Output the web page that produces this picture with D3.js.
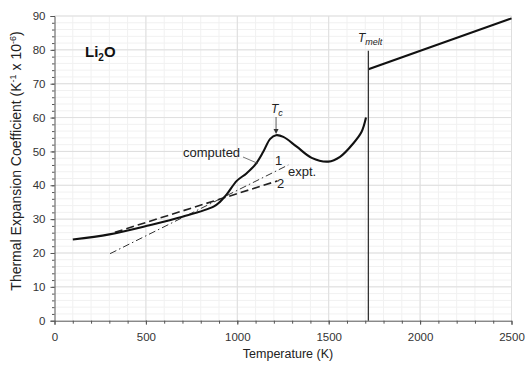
<!DOCTYPE html>
<html><head><meta charset="utf-8">
<script src="https://cdn.jsdelivr.net/npm/d3@7"></script>
<style>body{margin:0;background:#fff}svg{display:block;font-family:"Liberation Sans",Arial,sans-serif}</style>
</head><body><svg id="c" width="531" height="365"></svg>
<script>
// Data
const computedT = [100,300,520,700,870,905,942,997,1050,1097,1142,1180,1212,1252,1325,1407,1498,1562,1635,1680,1704];
const computedV = [24.0,25.5,28.2,30.7,33.7,35.1,37.3,41.3,43.5,46.0,49.9,53.7,54.8,54.3,51.4,48.1,47.0,48.4,52.4,55.8,60.0];
const liquidT = [1717,2500];
const liquidV = [74.3,89.3];
const expt1T = [304,1279];
const expt1V = [19.8,46.0];
const expt2T = [330,1220];
const expt2V = [26.1,41.3];
const meltT = 1717, meltTop = 79.7;
const xTicks = [0,500,1000,1500,2000,2500];
const yTicks = [0,10,20,30,40,50,60,70,80,90];

const svg = d3.select("#c");
const W=531,H=365, m={l:54.5,r:19.5,t:16,b:44.3};
const x = d3.scaleLinear().domain([0,2500]).range([m.l,W-m.r]);
const y = d3.scaleLinear().domain([0,90]).range([H-m.b,m.t]);

// minor grid
const g = svg.append("g");
g.selectAll(".mx").data(d3.range(100,2501,100)).join("line")
 .attr("x1",d=>x(d)).attr("x2",d=>x(d)).attr("y1",y(0)).attr("y2",y(90))
 .attr("stroke","#f1f1f1").attr("stroke-width",1);
g.selectAll(".my").data(d3.range(2,91,2)).join("line")
 .attr("x1",x(0)).attr("x2",x(2500)).attr("y1",d=>y(d)).attr("y2",d=>y(d))
 .attr("stroke","#f1f1f1").attr("stroke-width",1);
// major grid
g.selectAll(".Mx").data(xTicks.slice(1)).join("line")
 .attr("x1",d=>x(d)).attr("x2",d=>x(d)).attr("y1",y(0)).attr("y2",y(90))
 .attr("stroke","#dedede").attr("stroke-width",1);
g.selectAll(".My").data(yTicks.slice(1)).join("line")
 .attr("x1",x(0)).attr("x2",x(2500)).attr("y1",d=>y(d)).attr("y2",d=>y(d))
 .attr("stroke","#dedede").attr("stroke-width",1);

// axes
const xa = svg.append("g").attr("transform",`translate(0,${y(0)})`)
 .call(d3.axisBottom(x).tickValues(xTicks).tickSize(4).tickPadding(8).tickFormat(d3.format("d")));
const xm = svg.append("g").attr("transform",`translate(0,${y(0)})`)
 .call(d3.axisBottom(x).tickValues(d3.range(100,2500,100)).tickSize(3).tickFormat(""));
const ya = svg.append("g").attr("transform",`translate(${x(0)},0)`)
 .call(d3.axisLeft(y).tickValues(yTicks).tickSize(4).tickPadding(5));
const ym = svg.append("g").attr("transform",`translate(${x(0)},0)`)
 .call(d3.axisLeft(y).tickValues(d3.range(2,90,2)).tickSize(2.5).tickFormat(""));
[xa,xm,ya,ym].forEach(a=>{a.select(".domain").attr("stroke","#555");a.selectAll("line").attr("stroke","#555");
 a.selectAll("text").attr("fill","#333").style("font-size","11.5px").style("font-family","'Liberation Sans',Arial,sans-serif");});
xm.select(".domain").remove(); ym.select(".domain").remove();

// axis labels
svg.append("text").attr("x",288).attr("y",358).attr("text-anchor","middle")
 .attr("fill","#222").style("font-size","12.5px").text("Temperature (K)");
const yl = svg.append("text").attr("transform",`translate(21,161) rotate(-90)`)
 .attr("text-anchor","middle").attr("fill","#222").style("font-size","14px");
yl.append("tspan").text("Thermal Expansion Coefficient  (K");
yl.append("tspan").attr("dy",-5).style("font-size","9px").text("-1");
yl.append("tspan").attr("dy",5).text(" x 10");
yl.append("tspan").attr("dy",-5).style("font-size","9px").text("-6");
yl.append("tspan").attr("dy",5).text(")");

// lines
const line = d3.line().x(d=>x(d[0])).y(d=>y(d[1]));
svg.append("path").datum(d3.zip(expt1T,expt1V)).attr("d",line)
 .attr("fill","none").attr("stroke","#333").attr("stroke-width",1).attr("stroke-dasharray","7,3,1.5,3");
svg.append("path").datum(d3.zip(expt2T,expt2V)).attr("d",line)
 .attr("fill","none").attr("stroke","#222").attr("stroke-width",1.6).attr("stroke-dasharray","8,4");
svg.append("path").datum(d3.zip(computedT,computedV)).attr("d",d3.line().x(d=>x(d[0])).y(d=>y(d[1])).curve(d3.curveCatmullRom))
 .attr("fill","none").attr("stroke","#111").attr("stroke-width",2.1);
svg.append("path").datum(d3.zip(liquidT,liquidV)).attr("d",line)
 .attr("fill","none").attr("stroke","#111").attr("stroke-width",2.1);
svg.append("line").attr("x1",x(meltT)).attr("x2",x(meltT)).attr("y1",y(0)).attr("y2",y(meltTop))
 .attr("stroke","#333").attr("stroke-width",1.3);

// annotations
const li = svg.append("text").attr("x",85).attr("y",57).attr("fill","#111")
 .style("font-size","15px").style("font-weight","bold");
li.append("tspan").text("Li");
li.append("tspan").attr("dy",4).style("font-size","10px").text("2");
li.append("tspan").attr("dy",-4).text("O");

svg.append("text").attr("x",183).attr("y",157).attr("fill","#222").style("font-size","13px").text("computed");
svg.append("line").attr("x1",243).attr("y1",157).attr("x2",258).attr("y2",163.5).attr("stroke","#555").attr("stroke-width",0.8);
svg.append("text").attr("x",275).attr("y",165).attr("fill","#222").style("font-size","13px").text("1");
svg.append("text").attr("x",288).attr("y",176).attr("fill","#222").style("font-size","13px").text("expt.");
svg.append("text").attr("x",277).attr("y",188).attr("fill","#222").style("font-size","13px").text("2");

const tc = svg.append("text").attr("x",271).attr("y",113).attr("fill","#222").style("font-size","12px").style("font-style","italic");
tc.append("tspan").text("T");
tc.append("tspan").attr("dy",3).style("font-size","9px").text("c");
svg.append("line").attr("x1",x(1212)).attr("x2",x(1212)).attr("y1",117).attr("y2",131).attr("stroke","#333").attr("stroke-width",0.8);
svg.append("path").attr("d",`M${x(1212)-2.5},129 L${x(1212)+2.5},129 L${x(1212)},134 Z`).attr("fill","#333");

const tm = svg.append("text").attr("x",358).attr("y",42).attr("fill","#222").style("font-size","12px").style("font-style","italic");
tm.append("tspan").text("T");
tm.append("tspan").attr("dy",3).style("font-size","9px").text("melt");
</script></body></html>
